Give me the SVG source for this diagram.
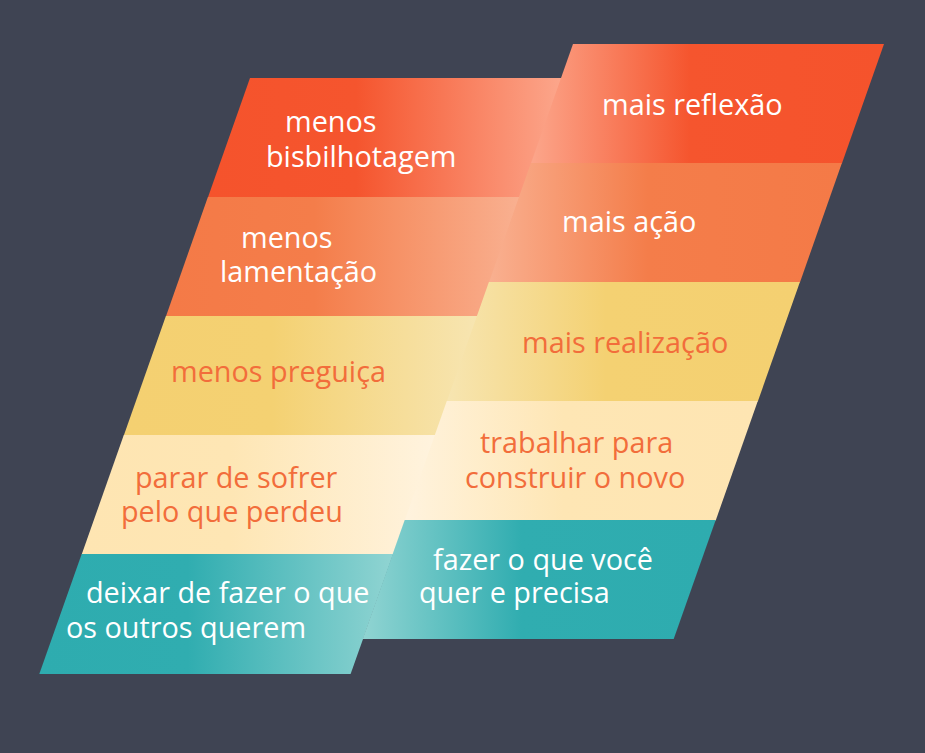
<svg xmlns="http://www.w3.org/2000/svg" width="925" height="753" viewBox="0 0 925 753">
  <style>
    .t { font-family: "Open Sans", "Noto Sans", "Liberation Sans", sans-serif; font-size: 28.8px; }
    .w { fill: #ffffff; }
    .o { fill: #f26d3b; }
  </style>
  <defs>
    <!-- left column gradients: solid on left, light toward the fold -->
    <linearGradient id="gL1" gradientUnits="userSpaceOnUse" x1="208" y1="0" x2="561" y2="0">
      <stop offset="0" stop-color="#f5532c"/><stop offset="0.42" stop-color="#f5552e"/><stop offset="1" stop-color="#fca68b"/>
    </linearGradient>
    <linearGradient id="gL2" gradientUnits="userSpaceOnUse" x1="166" y1="0" x2="519" y2="0">
      <stop offset="0" stop-color="#f47a47"/><stop offset="0.42" stop-color="#f47d4a"/><stop offset="1" stop-color="#f9b090"/>
    </linearGradient>
    <linearGradient id="gL3" gradientUnits="userSpaceOnUse" x1="124" y1="0" x2="477" y2="0">
      <stop offset="0" stop-color="#f4d071"/><stop offset="0.42" stop-color="#f4d172"/><stop offset="1" stop-color="#f7e5b1"/>
    </linearGradient>
    <linearGradient id="gL4" gradientUnits="userSpaceOnUse" x1="82" y1="0" x2="435" y2="0">
      <stop offset="0" stop-color="#fee5b2"/><stop offset="0.42" stop-color="#fee6b4"/><stop offset="1" stop-color="#fff3de"/>
    </linearGradient>
    <linearGradient id="gL5" gradientUnits="userSpaceOnUse" x1="39" y1="0" x2="393" y2="0">
      <stop offset="0" stop-color="#2eacaf"/><stop offset="0.42" stop-color="#30adb0"/><stop offset="1" stop-color="#90d4d2"/>
    </linearGradient>
    <!-- right column gradients: light at the fold, solid toward the right -->
    <linearGradient id="gR1" gradientUnits="userSpaceOnUse" x1="531" y1="0" x2="884" y2="0">
      <stop offset="0" stop-color="#fca68b"/><stop offset="0.45" stop-color="#f5552e"/><stop offset="1" stop-color="#f5532c"/>
    </linearGradient>
    <linearGradient id="gR2" gradientUnits="userSpaceOnUse" x1="489" y1="0" x2="842" y2="0">
      <stop offset="0" stop-color="#f9b090"/><stop offset="0.45" stop-color="#f47d4a"/><stop offset="1" stop-color="#f47a47"/>
    </linearGradient>
    <linearGradient id="gR3" gradientUnits="userSpaceOnUse" x1="447" y1="0" x2="800" y2="0">
      <stop offset="0" stop-color="#f7e5b1"/><stop offset="0.45" stop-color="#f4d172"/><stop offset="1" stop-color="#f4d071"/>
    </linearGradient>
    <linearGradient id="gR4" gradientUnits="userSpaceOnUse" x1="405" y1="0" x2="758" y2="0">
      <stop offset="0" stop-color="#fff3de"/><stop offset="0.45" stop-color="#fee6b4"/><stop offset="1" stop-color="#fee5b2"/>
    </linearGradient>
    <linearGradient id="gR5" gradientUnits="userSpaceOnUse" x1="363" y1="0" x2="716" y2="0">
      <stop offset="0" stop-color="#90d4d2"/><stop offset="0.45" stop-color="#30adb0"/><stop offset="1" stop-color="#2eacaf"/>
    </linearGradient>
  </defs>

  <rect width="925" height="753" fill="#3f4453"/>

  <!-- left column -->
  <g id="left-1">
    <polygon points="250,78 562,78 519.9,197.5 207.9,197.5" fill="url(#gL1)"/>
    <text class="t w" x="285" y="132">menos</text>
    <text class="t w" x="266" y="167">bisbilhotagem</text>
  </g>
  <g id="left-2">
    <polygon points="207.9,197 519.9,197 477.9,316.5 165.9,316.5" fill="url(#gL2)"/>
    <text class="t w" x="241" y="248">menos</text>
    <text class="t w" x="220" y="282">lamentação</text>
  </g>
  <g id="left-3">
    <polygon points="165.9,316 477.9,316 435.8,435.5 123.8,435.5" fill="url(#gL3)"/>
    <text class="t o" x="171" y="382">menos preguiça</text>
  </g>
  <g id="left-4">
    <polygon points="123.8,435 435.8,435 393.7,554.5 81.7,554.5" fill="url(#gL4)"/>
    <text class="t o" x="135" y="488">parar de sofrer</text>
    <text class="t o" x="121" y="522">pelo que perdeu</text>
  </g>
  <g id="left-5">
    <polygon points="81.7,554 393.2,554 350.6,674 39.3,674" fill="url(#gL5)"/>
    <text class="t w" x="86" y="603">deixar de fazer o que</text>
    <text class="t w" x="66" y="637.5">os outros querem</text>
  </g>

  <!-- right column -->
  <g id="right-1">
    <polygon points="573,44 884,44 841.9,163.5 530.9,163.5" fill="url(#gR1)"/>
    <text class="t w" x="602" y="115">mais reflexão</text>
  </g>
  <g id="right-2">
    <polygon points="530.9,163 841.9,163 799.9,282.5 488.9,282.5" fill="url(#gR2)"/>
    <text class="t w" x="562" y="232">mais ação</text>
  </g>
  <g id="right-3">
    <polygon points="488.9,282 799.9,282 757.8,401.5 446.8,401.5" fill="url(#gR3)"/>
    <text class="t o" x="522" y="353">mais realização</text>
  </g>
  <g id="right-4">
    <polygon points="446.8,401 757.8,401 715.7,520.5 404.7,520.5" fill="url(#gR4)"/>
    <text class="t o" x="480" y="453">trabalhar para</text>
    <text class="t o" x="465" y="488">construir o novo</text>
  </g>
  <g id="right-5">
    <polygon points="404.7,520 715.7,520 673.7,639 362.7,639" fill="url(#gR5)"/>
    <text class="t w" x="433" y="570">fazer o que você</text>
    <text class="t w" x="419" y="603">quer e precisa</text>
  </g>

  <g id="connectors"></g>
</svg>
